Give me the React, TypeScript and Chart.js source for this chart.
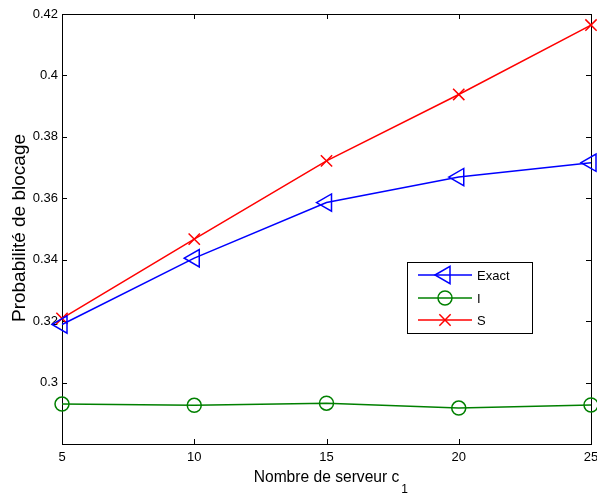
import React, { useEffect, useRef } from 'react';
import { Chart, registerables } from 'chart.js';

Chart.register(...registerables);

const xValues = [5, 10, 15, 20, 25];
const exactValues = [0.3189, 0.3405, 0.3586, 0.3669, 0.3716];
const iValues = [0.293, 0.2926, 0.2933, 0.2917, 0.2927];
const sValues = [0.3209, 0.3467, 0.3722, 0.3938, 0.4164];
const xTicks = [5, 10, 15, 20, 25];
const yTicks = [0.3, 0.32, 0.34, 0.36, 0.38, 0.4, 0.42];
const yTickLabels = ['0.3', '0.32', '0.34', '0.36', '0.38', '0.4', '0.42'];
const seriesNames = ['Exact', 'I', 'S'];
const seriesColors = ['#0000ff', '#008000', '#ff0000'];
const xTitle = 'Nombre de serveur c';
const xTitleSub = '1';
const yTitle = 'Probabilité de blocage';

const FONT = "'Liberation Sans', Arial, sans-serif";
const CANVAS_W = 620;

function drawMarker(ctx: CanvasRenderingContext2D, kind: number, x: number, y: number, color: string) {
  ctx.save();
  ctx.strokeStyle = color;
  ctx.lineWidth = 1.5;
  ctx.beginPath();
  if (kind === 0) {
    const r = 10;
    ctx.moveTo(x - r, y);
    ctx.lineTo(x + r / 2, y - r * 0.866);
    ctx.lineTo(x + r / 2, y + r * 0.866);
    ctx.closePath();
  } else if (kind === 1) {
    ctx.arc(x, y, 7, 0, Math.PI * 2);
  } else {
    const d = 8 * 0.7071;
    ctx.moveTo(x - d, y - d);
    ctx.lineTo(x + d, y + d);
    ctx.moveTo(x - d, y + d);
    ctx.lineTo(x + d, y - d);
  }
  ctx.stroke();
  ctx.restore();
}

const framePlugin = {
  id: 'frame',
  beforeDatasetsDraw(chart: any) {
    const { ctx, chartArea } = chart;
    const { left, right, top, bottom } = chartArea;
    const xs = chart.scales.x;
    const ys = chart.scales.y;
    ctx.save();
    ctx.strokeStyle = '#000';
    ctx.lineWidth = 1;
    ctx.strokeRect(Math.round(left) + 0.5, Math.round(top) + 0.5, Math.round(right - left), Math.round(bottom - top));
    const tl = 5;
    ctx.beginPath();
    xTicks.forEach((v) => {
      const px = Math.round(xs.getPixelForValue(v)) + 0.5;
      ctx.moveTo(px, bottom);
      ctx.lineTo(px, bottom - tl);
      ctx.moveTo(px, top);
      ctx.lineTo(px, top + tl);
    });
    yTicks.forEach((v) => {
      const py = Math.round(ys.getPixelForValue(v)) + 0.5;
      ctx.moveTo(left, py);
      ctx.lineTo(left + tl, py);
      ctx.moveTo(right, py);
      ctx.lineTo(right - tl, py);
    });
    ctx.stroke();
    ctx.restore();
  },
  afterDraw(chart: any) {
    const { ctx, chartArea } = chart;
    ctx.save();
    // Legend
    const lx = 407, ly = 262, lw = 125, lh = 71;
    ctx.fillStyle = '#fff';
    ctx.fillRect(lx, ly, lw, lh);
    ctx.strokeStyle = '#000';
    ctx.lineWidth = 1;
    ctx.strokeRect(lx + 0.5, ly + 0.5, lw, lh);
    const rowsY = [275, 298, 320];
    seriesNames.forEach((name, i) => {
      const y = rowsY[i];
      ctx.strokeStyle = seriesColors[i];
      ctx.lineWidth = 1.5;
      ctx.beginPath();
      ctx.moveTo(418, y);
      ctx.lineTo(472, y);
      ctx.stroke();
      drawMarker(ctx, i, 445, y, seriesColors[i]);
      ctx.fillStyle = '#000';
      ctx.font = `13px ${FONT}`;
      ctx.textAlign = 'left';
      ctx.textBaseline = 'middle';
      ctx.fillText(name, 477, y + 1);
    });
    // X title
    ctx.fillStyle = '#000';
    ctx.font = `15.6px ${FONT}`;
    ctx.textBaseline = 'alphabetic';
    const mainW = ctx.measureText(xTitle).width;
    const cx = (chartArea.left + chartArea.right) / 2;
    const sx = cx - mainW / 2;
    ctx.textAlign = 'left';
    ctx.fillText(xTitle, sx, 482);
    ctx.font = `12px ${FONT}`;
    ctx.fillText(xTitleSub, sx + mainW + 2, 493);
    // Y title
    ctx.translate(20, 228);
    ctx.rotate(-Math.PI / 2);
    ctx.font = `19px ${FONT}`;
    ctx.textAlign = 'center';
    ctx.textBaseline = 'middle';
    ctx.fillText(yTitle, 0, 0);
    ctx.restore();
  },
};

export default function App() {
  const canvasRef = useRef<HTMLCanvasElement | null>(null);

  useEffect(() => {
    const canvas = canvasRef.current;
    if (!canvas) return;
    const mk = (vals: number[]) => xValues.map((x, i) => ({ x, y: vals[i] }));
    const chart = new Chart(canvas, {
      type: 'line',
      data: {
        datasets: [
          {
            label: seriesNames[0],
            data: mk(exactValues),
            borderColor: seriesColors[0],
            backgroundColor: 'transparent',
            borderWidth: 1.5,
            pointStyle: 'triangle',
            rotation: -90,
            pointRadius: 10,
            pointBorderWidth: 1.5,
            pointBackgroundColor: 'transparent',
            pointBorderColor: seriesColors[0],
            tension: 0,
            clip: false,
          },
          {
            label: seriesNames[1],
            data: mk(iValues),
            borderColor: seriesColors[1],
            backgroundColor: 'transparent',
            borderWidth: 1.5,
            pointStyle: 'circle',
            pointRadius: 7,
            pointBorderWidth: 1.5,
            pointBackgroundColor: 'transparent',
            pointBorderColor: seriesColors[1],
            tension: 0,
            clip: false,
          },
          {
            label: seriesNames[2],
            data: mk(sValues),
            borderColor: seriesColors[2],
            backgroundColor: 'transparent',
            borderWidth: 1.5,
            pointStyle: 'crossRot',
            pointRadius: 8,
            pointBorderWidth: 1.5,
            pointBackgroundColor: 'transparent',
            pointBorderColor: seriesColors[2],
            tension: 0,
            clip: false,
          },
        ],
      } as any,
      options: {
        responsive: false,
        animation: false,
        layout: { padding: { left: 0, top: 14, right: CANVAS_W - 591, bottom: 0 } },
        plugins: { legend: { display: false }, tooltip: { enabled: false }, title: { display: false } },
        scales: {
          x: {
            type: 'linear',
            min: 5,
            max: 25,
            grid: { display: false, drawTicks: false },
            border: { display: false },
            ticks: {
              color: '#000',
              font: { size: 13, family: FONT },
              padding: 6,
              maxRotation: 0,
              autoSkip: false,
              callback: (v: any) => String(v),
            },
            afterBuildTicks: (s: any) => {
              s.ticks = xTicks.map((v) => ({ value: v }));
            },
            afterFit: (s: any) => {
              s.height = 51;
              s.paddingLeft = 0;
              s.paddingRight = 0;
            },
          },
          y: {
            type: 'linear',
            min: 0.28,
            max: 0.42,
            grid: { display: false, drawTicks: false },
            border: { display: false },
            ticks: {
              color: '#000',
              font: { size: 13, family: FONT },
              padding: 4,
              autoSkip: false,
              callback: (_v: any, i: number) => yTickLabels[i],
            },
            afterBuildTicks: (s: any) => {
              s.ticks = yTicks.map((v) => ({ value: v }));
            },
            afterFit: (s: any) => {
              s.width = 62;
              s.paddingTop = 0;
              s.paddingBottom = 0;
            },
          },
        },
      } as any,
      plugins: [framePlugin],
    });
    return () => chart.destroy();
  }, []);

  return (
    <div style={{ position: 'absolute', left: 0, top: 0, width: 597, height: 495, overflow: 'hidden', background: '#fff' }}>
      <canvas ref={canvasRef} width={CANVAS_W} height={495} style={{ display: 'block', width: CANVAS_W, height: 495 }} />
    </div>
  );
}
